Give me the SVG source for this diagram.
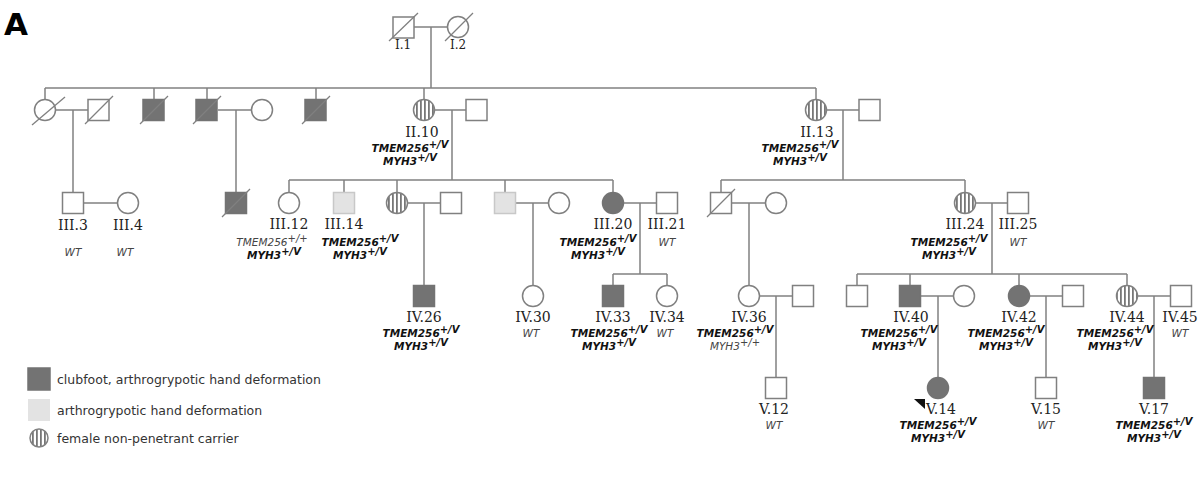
<svg xmlns="http://www.w3.org/2000/svg" width="1200" height="487" viewBox="0 0 1200 487">
<style>
.s{fill:#fff;stroke:#808080;stroke-width:1.5}
.f{fill:#737373;stroke:#737373;stroke-width:1.5}
.l{fill:#e3e3e3;stroke:#c8c8c8;stroke-width:1.5}
.p{fill:url(#st);stroke:#808080;stroke-width:1.5}
.c line{stroke:#808080;stroke-width:1.5;fill:none}
.d{stroke:#808080;stroke-width:1.3}
.n{font-family:"DejaVu Serif",serif;font-size:14px;fill:#222;text-anchor:middle}
.n1{font-size:12px}
.g{font-family:"DejaVu Sans",sans-serif;font-size:10.5px;font-style:italic;font-weight:bold;fill:#111;text-anchor:middle}
.w{font-weight:normal;fill:#444}
.sp{font-size:10px}
.lg{font-family:"DejaVu Sans",sans-serif;font-size:12.5px;fill:#333}
</style>
<defs>
<pattern id="st" width="4" height="4" patternUnits="userSpaceOnUse"><rect width="4" height="4" fill="#fff"/><rect x="0" width="1.8" height="4" fill="#777"/></pattern>
</defs>
<text x="4" y="35" font-family="DejaVu Sans,sans-serif" font-weight="bold" font-size="31">A</text>
<g class="c" id="connectors">
<line x1="414" y1="27" x2="447" y2="27"/><line x1="431" y1="27" x2="431" y2="88"/>
<line x1="45" y1="88" x2="816" y2="88"/>
<line x1="45" y1="88" x2="45" y2="99"/><line x1="154" y1="88" x2="154" y2="99"/><line x1="207" y1="88" x2="207" y2="99"/><line x1="316" y1="88" x2="316" y2="99"/><line x1="424" y1="88" x2="424" y2="99"/><line x1="816" y1="88" x2="816" y2="99"/>
<line x1="56" y1="110" x2="88" y2="110"/><line x1="73" y1="110" x2="73" y2="192"/>
<line x1="84" y1="203" x2="117" y2="203"/>
<line x1="218" y1="110" x2="251" y2="110"/><line x1="236" y1="110" x2="236" y2="192"/>
<line x1="435" y1="110" x2="466" y2="110"/><line x1="452" y1="110" x2="452" y2="180"/>
<line x1="289" y1="180" x2="613" y2="180"/>
<line x1="289" y1="180" x2="289" y2="192"/><line x1="344" y1="180" x2="344" y2="192"/><line x1="397" y1="180" x2="397" y2="192"/><line x1="505" y1="180" x2="505" y2="192"/><line x1="613" y1="180" x2="613" y2="192"/>
<line x1="408" y1="203" x2="440" y2="203"/><line x1="424" y1="203" x2="424" y2="285"/>
<line x1="516" y1="203" x2="548" y2="203"/><line x1="533" y1="203" x2="533" y2="285"/>
<line x1="624" y1="203" x2="656" y2="203"/><line x1="640" y1="203" x2="640" y2="274"/>
<line x1="613" y1="274" x2="667" y2="274"/><line x1="613" y1="274" x2="613" y2="285"/><line x1="667" y1="274" x2="667" y2="285"/>
<line x1="827" y1="110" x2="859" y2="110"/><line x1="843" y1="110" x2="843" y2="180"/>
<line x1="721" y1="180" x2="965" y2="180"/><line x1="721" y1="180" x2="721" y2="192"/><line x1="965" y1="180" x2="965" y2="192"/>
<line x1="732" y1="203" x2="765" y2="203"/><line x1="749" y1="203" x2="749" y2="285"/>
<line x1="976" y1="203" x2="1007" y2="203"/><line x1="992" y1="203" x2="992" y2="274"/>
<line x1="857" y1="274" x2="1127" y2="274"/>
<line x1="857" y1="274" x2="857" y2="285"/><line x1="910" y1="274" x2="910" y2="285"/><line x1="1019" y1="274" x2="1019" y2="285"/><line x1="1127" y1="274" x2="1127" y2="285"/>
<line x1="759" y1="296" x2="792" y2="296"/><line x1="776" y1="296" x2="776" y2="377"/>
<line x1="921" y1="296" x2="953" y2="296"/><line x1="938" y1="296" x2="938" y2="377"/>
<line x1="1030" y1="296" x2="1062" y2="296"/><line x1="1046" y1="296" x2="1046" y2="377"/>
<line x1="1138" y1="296" x2="1170" y2="296"/><line x1="1154" y1="296" x2="1154" y2="377"/>
</g>
<!-- Gen I -->
<g id="I1"><rect class="s" x="393" y="17" width="21" height="21"/><line class="d" x1="389" y1="41" x2="418" y2="13"/><text class="n n1" x="403" y="49">I.1</text></g>
<g id="I2"><circle class="s" cx="458" cy="27" r="10.5"/><line class="d" x1="445" y1="41" x2="473" y2="13"/><text class="n n1" x="458" y="49">I.2</text></g>
<!-- Gen II -->
<g id="II1"><circle class="s" cx="45" cy="110" r="10.5"/><line class="d" x1="32" y1="125" x2="65" y2="97"/></g>
<g id="II2"><rect class="s" x="88" y="99.5" width="21" height="21"/><line class="d" x1="85" y1="124" x2="113" y2="96"/></g>
<g id="II3"><rect class="f" x="143" y="99.5" width="21" height="21"/><line class="d" x1="140" y1="124" x2="168" y2="96"/></g>
<g id="II4"><rect class="f" x="196" y="99.5" width="21" height="21"/><line class="d" x1="193" y1="124" x2="221" y2="96"/></g>
<g id="II5"><circle class="s" cx="262" cy="110" r="10.5"/></g>
<g id="II6"><rect class="f" x="305" y="99.5" width="21" height="21"/><line class="d" x1="302" y1="124" x2="330" y2="96"/></g>
<g id="II10"><circle class="p" cx="424" cy="110" r="10.5"/><text class="n" x="422" y="137">II.10</text>
<text class="g" x="410" y="152">TMEM256<tspan class="sp" dy="-4">+/V</tspan></text><text class="g" x="410" y="165">MYH3<tspan class="sp" dy="-4">+/V</tspan></text></g>
<g id="II11"><rect class="s" x="466" y="99.5" width="21" height="21"/></g>
<g id="II13"><circle class="p" cx="816" cy="110" r="10.5"/><text class="n" x="817" y="137">II.13</text>
<text class="g" x="800" y="152">TMEM256<tspan class="sp" dy="-4">+/V</tspan></text><text class="g" x="800" y="165">MYH3<tspan class="sp" dy="-4">+/V</tspan></text></g>
<g id="II14"><rect class="s" x="859" y="99.5" width="21" height="21"/></g>
<!-- Gen III -->
<g id="III3"><rect class="s" x="62.5" y="192.5" width="21" height="21"/><text class="n" x="73" y="230">III.3</text><text class="g w" x="73" y="256">WT</text></g>
<g id="III4"><circle class="s" cx="128" cy="203" r="10.5"/><text class="n" x="128" y="230">III.4</text><text class="g w" x="125" y="256">WT</text></g>
<g id="III9"><rect class="f" x="225.5" y="192.5" width="21" height="21"/><line class="d" x1="222" y1="217" x2="250" y2="189"/></g>
<g id="III12"><circle class="s" cx="289" cy="203" r="10.5"/><text class="n" x="289" y="229">III.12</text>
<text class="g w" x="272" y="246">TMEM256<tspan class="sp" dy="-4">+/+</tspan></text><text class="g" x="274" y="259">MYH3<tspan class="sp" dy="-4">+/V</tspan></text></g>
<g id="III14"><rect class="l" x="333.5" y="192.5" width="21" height="21"/><text class="n" x="344" y="229">III.14</text>
<text class="g" x="360" y="246">TMEM256<tspan class="sp" dy="-4">+/V</tspan></text><text class="g" x="360" y="259">MYH3<tspan class="sp" dy="-4">+/V</tspan></text></g>
<g id="III15"><circle class="p" cx="397" cy="203" r="10.5"/></g>
<g id="III16"><rect class="s" x="440.5" y="192.5" width="21" height="21"/></g>
<g id="III17"><rect class="l" x="494.5" y="192.5" width="21" height="21"/></g>
<g id="III18"><circle class="s" cx="559" cy="203" r="10.5"/></g>
<g id="III20"><circle class="f" cx="613" cy="203" r="10.5"/><text class="n" x="613" y="229">III.20</text>
<text class="g" x="598" y="246">TMEM256<tspan class="sp" dy="-4">+/V</tspan></text><text class="g" x="598" y="259">MYH3<tspan class="sp" dy="-4">+/V</tspan></text></g>
<g id="III21"><rect class="s" x="656.5" y="192.5" width="21" height="21"/><text class="n" x="667" y="229">III.21</text><text class="g w" x="667" y="246">WT</text></g>
<g id="III22"><rect class="s" x="710.5" y="192.5" width="21" height="21"/><line class="d" x1="707" y1="217" x2="735" y2="189"/></g>
<g id="III23"><circle class="s" cx="776" cy="203" r="10.5"/></g>
<g id="III24"><circle class="p" cx="965" cy="203" r="10.5"/><text class="n" x="965" y="229">III.24</text>
<text class="g" x="949" y="246">TMEM256<tspan class="sp" dy="-4">+/V</tspan></text><text class="g" x="949" y="259">MYH3<tspan class="sp" dy="-4">+/V</tspan></text></g>
<g id="III25"><rect class="s" x="1007.5" y="192.5" width="21" height="21"/><text class="n" x="1018" y="229">III.25</text><text class="g w" x="1018" y="246">WT</text></g>
<!-- Gen IV -->
<g id="IV26"><rect class="f" x="413.5" y="285.5" width="21" height="21"/><text class="n" x="424" y="322">IV.26</text>
<text class="g" x="421" y="337">TMEM256<tspan class="sp" dy="-4">+/V</tspan></text><text class="g" x="421" y="350">MYH3<tspan class="sp" dy="-4">+/V</tspan></text></g>
<g id="IV30"><circle class="s" cx="533" cy="296" r="10.5"/><text class="n" x="533" y="322">IV.30</text><text class="g w" x="531" y="337">WT</text></g>
<g id="IV33"><rect class="f" x="602.5" y="285.5" width="21" height="21"/><text class="n" x="613" y="322">IV.33</text>
<text class="g" x="609" y="337">TMEM256<tspan class="sp" dy="-4">+/V</tspan></text><text class="g" x="609" y="350">MYH3<tspan class="sp" dy="-4">+/V</tspan></text></g>
<g id="IV34"><circle class="s" cx="667" cy="296" r="10.5"/><text class="n" x="667" y="322">IV.34</text><text class="g w" x="665" y="337">WT</text></g>
<g id="IV36"><circle class="s" cx="749" cy="296" r="10.5"/><text class="n" x="749" y="322">IV.36</text>
<text class="g" x="735" y="337">TMEM256<tspan class="sp" dy="-4">+/V</tspan></text><text class="g w" x="735" y="350">MYH3<tspan class="sp" dy="-4">+/+</tspan></text></g>
<g id="IV37"><rect class="s" x="792.5" y="285.5" width="21" height="21"/></g>
<g id="IV39"><rect class="s" x="846.5" y="285.5" width="21" height="21"/></g>
<g id="IV40"><rect class="f" x="899.5" y="285.5" width="21" height="21"/><text class="n" x="911" y="322">IV.40</text>
<text class="g" x="899" y="337">TMEM256<tspan class="sp" dy="-4">+/V</tspan></text><text class="g" x="899" y="350">MYH3<tspan class="sp" dy="-4">+/V</tspan></text></g>
<g id="IV41"><circle class="s" cx="964" cy="296" r="10.5"/></g>
<g id="IV42"><circle class="f" cx="1019" cy="296" r="10.5"/><text class="n" x="1019" y="322">IV.42</text>
<text class="g" x="1006" y="337">TMEM256<tspan class="sp" dy="-4">+/V</tspan></text><text class="g" x="1006" y="350">MYH3<tspan class="sp" dy="-4">+/V</tspan></text></g>
<g id="IV43"><rect class="s" x="1062.5" y="285.5" width="21" height="21"/></g>
<g id="IV44"><circle class="p" cx="1127" cy="296" r="10.5"/><text class="n" x="1127" y="322">IV.44</text>
<text class="g" x="1115" y="337">TMEM256<tspan class="sp" dy="-4">+/V</tspan></text><text class="g" x="1115" y="350">MYH3<tspan class="sp" dy="-4">+/V</tspan></text></g>
<g id="IV45"><rect class="s" x="1170.5" y="285.5" width="21" height="21"/><text class="n" x="1180" y="322">IV.45</text><text class="g w" x="1180" y="337">WT</text></g>
<!-- Gen V -->
<g id="V12"><rect class="s" x="765.5" y="377.5" width="21" height="21"/><text class="n" x="774" y="414">V.12</text><text class="g w" x="774" y="429">WT</text></g>
<g id="V14"><circle class="f" cx="938" cy="388" r="10.5"/><polygon points="914,399 925,399 925,409" fill="#111"/><text class="n" x="941" y="414">V.14</text>
<text class="g" x="938" y="429">TMEM256<tspan class="sp" dy="-4">+/V</tspan></text><text class="g" x="938" y="442">MYH3<tspan class="sp" dy="-4">+/V</tspan></text></g>
<g id="V15"><rect class="s" x="1035.5" y="377.5" width="21" height="21"/><text class="n" x="1046" y="414">V.15</text><text class="g w" x="1046" y="429">WT</text></g>
<g id="V17"><rect class="f" x="1143.5" y="377.5" width="21" height="21"/><text class="n" x="1154" y="414">V.17</text>
<text class="g" x="1154" y="429">TMEM256<tspan class="sp" dy="-4">+/V</tspan></text><text class="g" x="1154" y="442">MYH3<tspan class="sp" dy="-4">+/V</tspan></text></g>
<!-- Legend -->
<g id="legend">
<rect class="f" x="28" y="368" width="22" height="22"/><text class="lg" x="57" y="384">clubfoot, arthrogrypotic hand deformation</text>
<rect fill="#e3e3e3" x="28" y="399" width="22" height="22"/><text class="lg" x="57" y="415">arthrogrypotic hand deformation</text>
<circle class="p" cx="39" cy="438" r="9"/><text class="lg" x="57" y="443">female non-penetrant carrier</text>
</g>
</svg>
